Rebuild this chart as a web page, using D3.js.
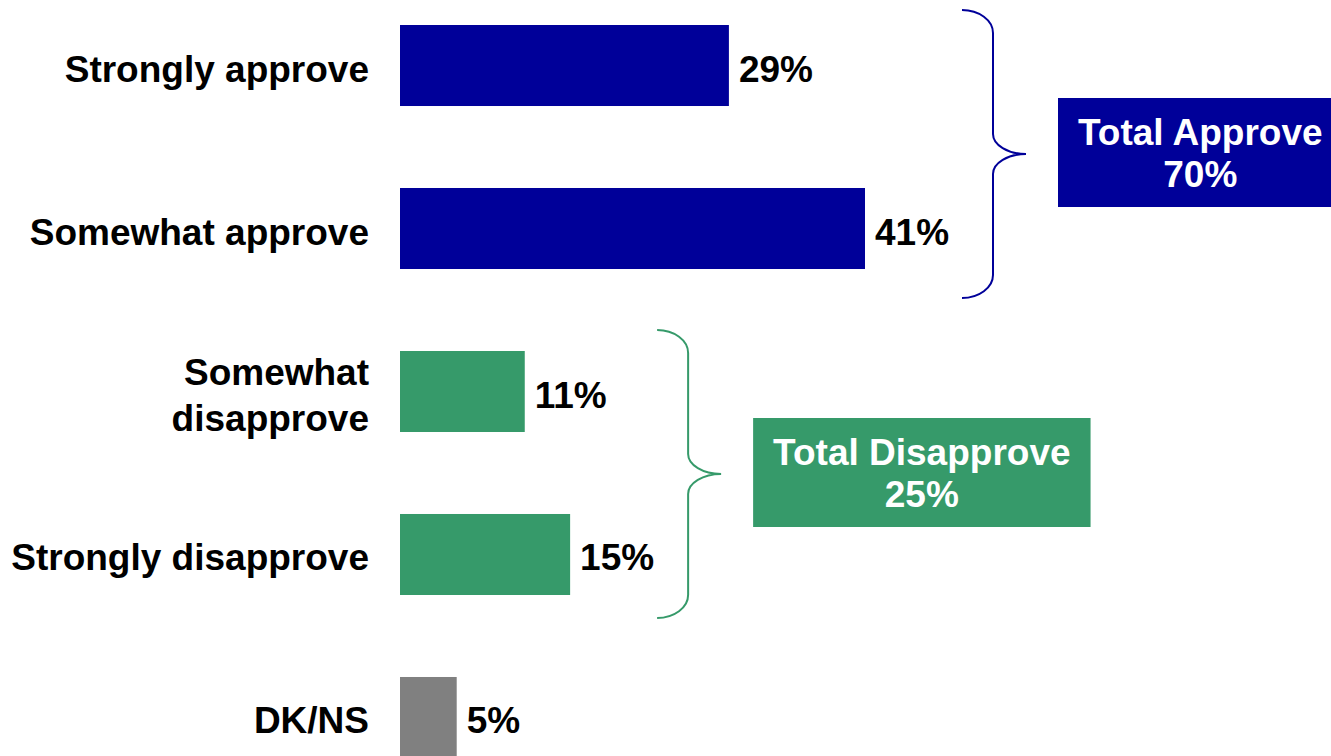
<!DOCTYPE html>
<html>
<head>
<meta charset="utf-8">
<script src="https://cdn.jsdelivr.net/npm/d3@7/dist/d3.min.js"></script>
<style>
  html, body { margin: 0; padding: 0; background: #ffffff; overflow: hidden; }
  svg { display: block; }
  text { font-family: "Liberation Sans", Arial, Helvetica, sans-serif; font-weight: bold; }
</style>
</head>
<body>
<svg id="chart" width="1331" height="756"></svg>
<script>
// ---- Data ----
const categories = ["Strongly approve", "Somewhat approve", "Somewhat\ndisapprove", "Strongly disapprove", "DK/NS"];
const values = [29, 41, 11, 15, 5];
const barColors = ["#000099", "#000099", "#369a6a", "#369a6a", "#808080"];

const groupLabels = ["Total Approve", "Total Disapprove"];
const groupTotals = [70, 25];
const groupMembers = [[0, 1], [2, 3]];
const groupColors = ["#000099", "#369a6a"];

// ---- Layout (annotation placement tweaks, not data) ----
const braceLayout = [{ dx: 97, dy: 7 }, { dx: 87, dy: 1 }];

const W = 1331, H = 756;
const svg = d3.select("#chart");

const x = d3.scaleLinear().domain([0, 41]).range([400, 865]);
const y = d3.scaleBand().domain(categories).range([25, 758]).paddingInner(0.503).paddingOuter(0);

const FS = 37;

// Bars
svg.selectAll("rect.bar")
  .data(values)
  .join("rect")
  .attr("class", "bar")
  .attr("x", x(0))
  .attr("y", (d, i) => y(categories[i]))
  .attr("width", d => x(d) - x(0))
  .attr("height", y.bandwidth())
  .attr("fill", (d, i) => barColors[i]);

// Value labels
svg.selectAll("text.val")
  .data(values)
  .join("text")
  .attr("class", "val")
  .attr("x", d => x(d) + 10)
  .attr("y", (d, i) => y(categories[i]) + y.bandwidth() / 2 + 16)
  .attr("font-size", FS)
  .attr("fill", "#000")
  .text(d => d + "%");

// Category labels (right aligned)
const lineGap = 46;
svg.selectAll("text.cat")
  .data(categories)
  .join("text")
  .attr("class", "cat")
  .attr("text-anchor", "end")
  .attr("font-size", FS)
  .attr("fill", "#000")
  .each(function (d) {
    const lines = d.split("\n");
    const cy = y(d) + y.bandwidth() / 2 + 16 - (lines.length - 1) * lineGap / 2;
    const t = d3.select(this);
    lines.forEach((ln, k) => {
      t.append("tspan").attr("x", 369).attr("y", cy + k * lineGap).text(ln);
    });
  });

// Braces and total boxes
function bracePath(x0, y0, y1, yc) {
  const xv = x0 + 31, xm = x0 + 64;
  const r = 23, rm = 20;
  const k = 0.55;
  return [
    `M${x0},${y0}`,
    `C${x0 + k * 31},${y0} ${xv},${y0 + r * (1 - k)} ${xv},${y0 + r}`,
    `L${xv},${yc - rm}`,
    `C${xv},${yc - rm * (1 - k)} ${xm - 33 * k},${yc} ${xm},${yc}`,
    `C${xm - 33 * k},${yc} ${xv},${yc + rm * (1 - k)} ${xv},${yc + rm}`,
    `L${xv},${y1 - r}`,
    `C${xv},${y1 - r * (1 - k)} ${x0 + k * 31},${y1} ${x0},${y1}`
  ].join(" ");
}

groupLabels.forEach((label, gi) => {
  const members = groupMembers[gi];
  const maxVal = d3.max(members, i => values[i]);
  const top = y(categories[members[0]]);
  const bottom = y(categories[members[members.length - 1]]) + y.bandwidth();
  const yc = (top + bottom) / 2 + braceLayout[gi].dy;
  const half = 144;
  const x0 = x(maxVal) + braceLayout[gi].dx;
  svg.append("path")
    .attr("d", bracePath(x0, yc - half, yc + half, yc))
    .attr("fill", "none")
    .attr("stroke", groupColors[gi])
    .attr("stroke-width", 2);

  const bx = x0 + 64 + 32;
  const by = yc - 56;
  const g = svg.append("g");
  const rect = g.append("rect")
    .attr("x", bx).attr("y", by).attr("height", 109)
    .attr("fill", groupColors[gi]);
  const t1 = g.append("text")
    .attr("font-size", FS).attr("fill", "#fff").attr("text-anchor", "middle")
    .attr("y", by + 47).text(label);
  const tw = t1.node().getComputedTextLength();
  const bw = tw + 40;
  rect.attr("width", bw);
  t1.attr("x", bx + bw / 2);
  g.append("text")
    .attr("font-size", FS).attr("fill", "#fff").attr("text-anchor", "middle")
    .attr("x", bx + bw / 2).attr("y", by + 89).text(groupTotals[gi] + "%");
});
</script>
</body>
</html>
